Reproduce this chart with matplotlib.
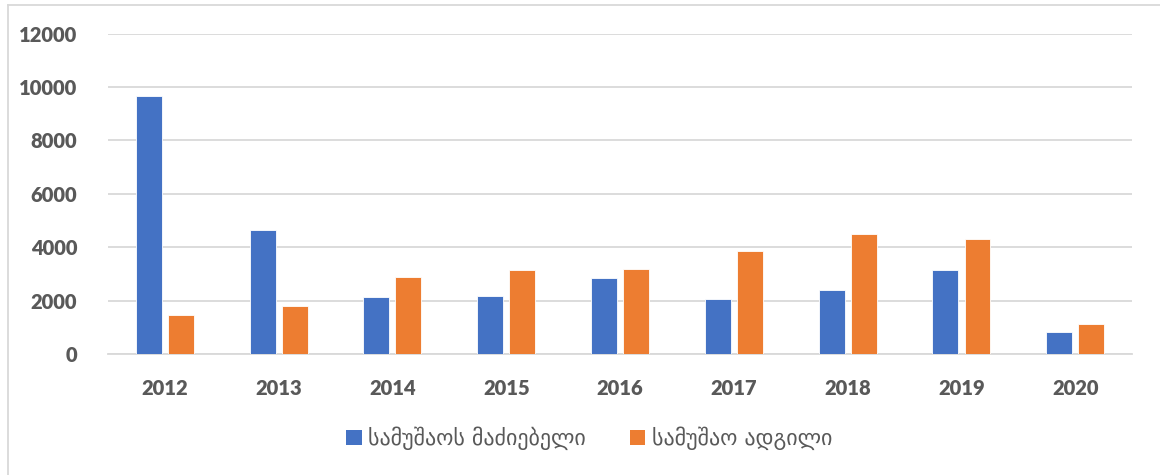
import matplotlib
matplotlib.use("Agg")
import matplotlib.pyplot as plt
import numpy as np
from matplotlib.lines import Line2D
from matplotlib.patches import Patch

years = ["2012", "2013", "2014", "2015", "2016", "2017", "2018", "2019", "2020"]
job_seekers = [9650, 4660, 2135, 2157, 2831, 2060, 2382, 3131, 809]
vacancies = [1472, 1783, 2884, 3157, 3183, 3869, 4506, 4318, 1135]
series_names = ["სამუშაოს მაძიებელი", "სამუშაო ადგილი"]
yticks = [0, 2000, 4000, 6000, 8000, 10000, 12000]

blue = "#4472C4"
orange = "#ED7D31"
grid = "#D9D9D9"
tcol = "#595959"

fig = plt.figure(figsize=(11.6, 4.75), dpi=100)
ax = fig.add_axes([0.093, 0.255, 0.883, 0.674])

x = np.arange(len(years))
w = 0.228
off = 0.141
ax.bar(x - off, job_seekers, w, color=blue, edgecolor="white", linewidth=0.6, zorder=3)
ax.bar(x + off, vacancies, w, color=orange, edgecolor="white", linewidth=0.6, zorder=3)

ax.set_xlim(-0.5, len(years) - 0.5)
ax.set_ylim(0, 12000)
ax.set_yticks(yticks)
ax.set_yticklabels([str(v) for v in yticks])
ax.set_xticks(x)
ax.set_xticklabels(years)
ax.yaxis.grid(True, color=grid, linewidth=1.3, zorder=0)
ax.set_axisbelow(True)
for s in ["top", "right", "left"]:
    ax.spines[s].set_visible(False)
ax.spines["bottom"].set_color(grid)
ax.spines["bottom"].set_linewidth(1.3)
ax.tick_params(axis="both", length=0, colors=tcol)
ax.tick_params(axis="y", pad=22)
ax.tick_params(axis="x", pad=18)
for lab in ax.get_xticklabels() + ax.get_yticklabels():
    lab.set_fontfamily(["Lato", "DejaVu Sans"])
    lab.set_fontweight("heavy")
    lab.set_fontsize(14.5)
    lab.set_color(tcol)

handles = [Patch(facecolor=blue, edgecolor="none"), Patch(facecolor=orange, edgecolor="none")]
leg = fig.legend(handles, series_names, loc="center", bbox_to_anchor=(0.508, 0.077),
                 ncol=2, frameon=False, prop={"family": ["DejaVu Sans"], "size": 15.8},
                 handlelength=0.7, handleheight=0.7, handletextpad=0.3, columnspacing=2.0)
for t in leg.get_texts():
    t.set_color(tcol)

# outer frame (partial, as in reference)
fig.add_artist(Line2D([8 / 1160, 1.0], [1 - 5 / 475, 1 - 5 / 475], transform=fig.transFigure,
                      color=grid, linewidth=1.3))
fig.add_artist(Line2D([8 / 1160, 8 / 1160], [0, 1 - 5 / 475], transform=fig.transFigure,
                      color=grid, linewidth=1.3))

fig.savefig("out.png", dpi=100, facecolor="white")
